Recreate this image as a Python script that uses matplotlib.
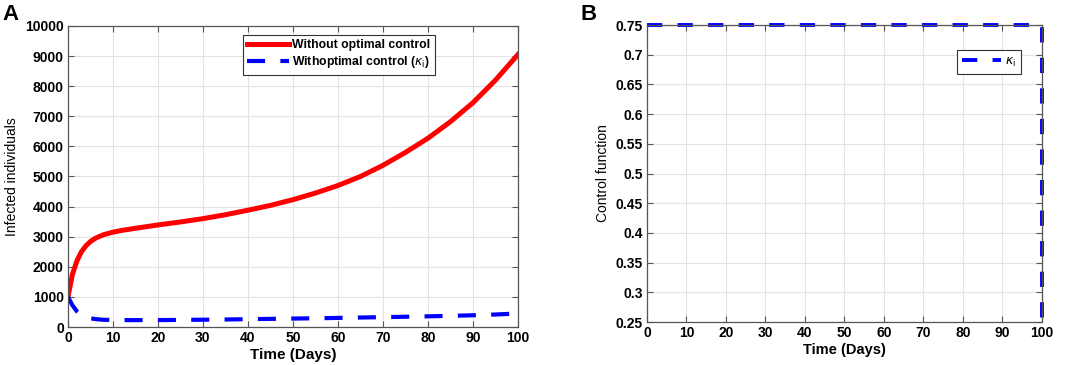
import numpy as np
import matplotlib
matplotlib.use("Agg")
import matplotlib.pyplot as plt

# ── Data ──────────────────────────────────────────────────────────────────────
t_days      = [0, 1, 2, 3, 4, 5, 6, 7, 8, 10, 12, 15, 20, 25, 30, 35, 40, 45,
               50, 55, 60, 65, 70, 75, 80, 85, 90, 95, 100]
no_control  = [1000, 1750, 2200, 2500, 2700, 2840, 2940, 3010, 3070, 3150,
               3210, 3280, 3390, 3490, 3600, 3730, 3880, 4040, 4230, 4450,
               4700, 5000, 5370, 5800, 6270, 6820, 7450, 8200, 9050]
with_control = [1000, 720, 520, 400, 330, 290, 265, 250, 240, 232, 230,
                228, 230, 235, 242, 250, 260, 270, 280, 290, 302, 315, 328,
                340, 355, 370, 390, 415, 450]

t_ctrl  = [0, 100, 100]
u_ctrl  = [0.75, 0.75, 0.25]

plt.rcParams["font.family"] = ["Liberation Sans", "DejaVu Sans"]
plt.rcParams["lines.scale_dashes"] = False
plt.rcParams["mathtext.fontset"] = "dejavusans"

GRID = "#e3e3e3"
SPINE = "#555555"


def style_axes(ax):
    ax.grid(True, color=GRID, linewidth=0.8)
    ax.set_axisbelow(True)
    ax.tick_params(direction="in", top=True, right=True, length=4,
                   width=0.8, color=SPINE, labelsize=10, pad=3)
    for s in ax.spines.values():
        s.set_color(SPINE)
        s.set_linewidth(0.9)
    for lab in ax.get_xticklabels() + ax.get_yticklabels():
        lab.set_fontweight("bold")


fig = plt.figure(figsize=(10.65, 3.65), dpi=100)

# ── Panel A ───────────────────────────────────────────────────────────────────
ax1 = fig.add_axes([0.0638, 0.1041, 0.4225, 0.8247])
ax1.plot(t_days, no_control, color="red", linewidth=3.6,
         label="Without optimal control")
ax1.plot(t_days, with_control, color="blue", linewidth=3.0,
         dashes=(13, 11), label=r"Withoptimal control ($\kappa_{\mathrm{i}}$)")
ax1.set_xlim(0, 100)
ax1.set_ylim(0, 10000)
ax1.set_xticks(np.arange(0, 101, 10))
ax1.set_yticks(np.arange(0, 10001, 1000))
ax1.set_xlabel("Time (Days)", fontsize=11, fontweight="bold", labelpad=2)
ax1.set_ylabel("Infected individuals", fontsize=10, labelpad=4)
style_axes(ax1)
leg1 = ax1.legend(loc="upper left", bbox_to_anchor=(0.389, 0.97),
                  prop={"weight": "bold", "size": 8.8}, frameon=True,
                  fancybox=False, edgecolor="#333333", framealpha=1,
                  handlelength=3.4, borderpad=0.35, labelspacing=0.25,
                  handletextpad=0.3, borderaxespad=0)
leg1.get_frame().set_linewidth(0.8)
fig.text(0.002, 0.99, "A", fontsize=16, fontweight="bold", va="top")

# ── Panel B ───────────────────────────────────────────────────────────────────
ax2 = fig.add_axes([0.6075, 0.1178, 0.3709, 0.8137])
ax2.plot(t_ctrl, u_ctrl, color="blue", linewidth=2.8, dashes=(11, 11),
         label=r"$\kappa_{\mathrm{i}}$", clip_on=False)
ax2.set_xlim(0, 100)
ax2.set_ylim(0.25, 0.75)
ax2.set_xticks(np.arange(0, 101, 10))
ax2.set_yticks(np.arange(0.25, 0.751, 0.05))
ax2.set_yticklabels(["0.25", "0.3", "0.35", "0.4", "0.45", "0.5",
                     "0.55", "0.6", "0.65", "0.7", "0.75"])
ax2.set_xlabel("Time (Days)", fontsize=10.5, fontweight="bold", labelpad=2)
ax2.set_ylabel("Control function", fontsize=10, labelpad=4)
style_axes(ax2)
leg2 = ax2.legend(loc="upper right", bbox_to_anchor=(0.947, 0.915),
                  prop={"weight": "bold", "size": 8.8}, frameon=True,
                  fancybox=False, edgecolor="#333333", framealpha=1,
                  handlelength=3.2, borderpad=0.45, handletextpad=0.3,
                  borderaxespad=0)
leg2.get_frame().set_linewidth(0.8)
fig.text(0.545, 0.99, "B", fontsize=16, fontweight="bold", va="top")

fig.savefig("out.png", dpi=100)
